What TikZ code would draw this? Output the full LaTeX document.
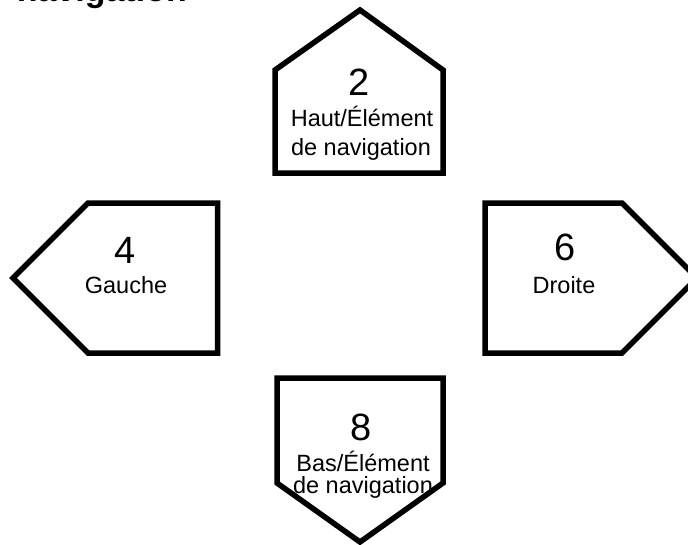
\documentclass[tikz,border=0pt]{standalone}
\usepackage{fontspec}
\setmainfont{Liberation Sans}
\begin{document}
\begin{tikzpicture}[x=1pt,y=1pt,
  keyshape/.style={draw=black,line width=5.5pt,line join=miter,fill=white},
  digit/.style={anchor=base,inner sep=0pt,font=\fontsize{38}{40}\selectfont},
  lbl/.style={anchor=base,inner sep=0pt,font=\fontsize{23.5}{26}\selectfont},
  ttl/.style={anchor=base east,inner sep=0pt,font=\fontsize{34}{38}\selectfont\bfseries}]
\useasboundingbox (0,0) rectangle (688,-544);
\clip (0,0) rectangle (688,-544);
% title
\node[ttl] (title) at (187,-1.5) {navigation};
% top key
\draw[keyshape] (275,-173) -- (275,-70) -- (360,-10) -- (443,-70) -- (443,-173) -- cycle;
\node[digit] (d2) at (359,-95) {2};
\node[lbl] (l2a) at (362,-126.5) {Haut/Élément};
\node[lbl] (l2b) at (361,-155) {de navigation};
% left key
\draw[keyshape] (13,-278) -- (88,-203) -- (217.5,-203) -- (217.5,-353) -- (88,-353) -- cycle;
\node[digit] (d4) at (125,-263) {4};
\node[lbl] (l4) at (126,-293) {Gauche};
% right key
\draw[keyshape] (485,-203) -- (622,-203) -- (697,-278) -- (622,-353) -- (485,-353) -- cycle;
\node[digit] (d6) at (565,-260) {6};
\node[lbl] (l6) at (564,-293) {Droite};
% bottom key
\draw[keyshape] (277,-378) -- (443,-378) -- (443,-483) -- (360,-542) -- (277,-483) -- cycle;
\node[digit] (d8) at (361,-440) {8};
\node[lbl] (l8a) at (363,-471) {Bas/Élément};
\node[lbl] (l8b) at (363,-493) {de navigation};
\end{tikzpicture}
\end{document}
